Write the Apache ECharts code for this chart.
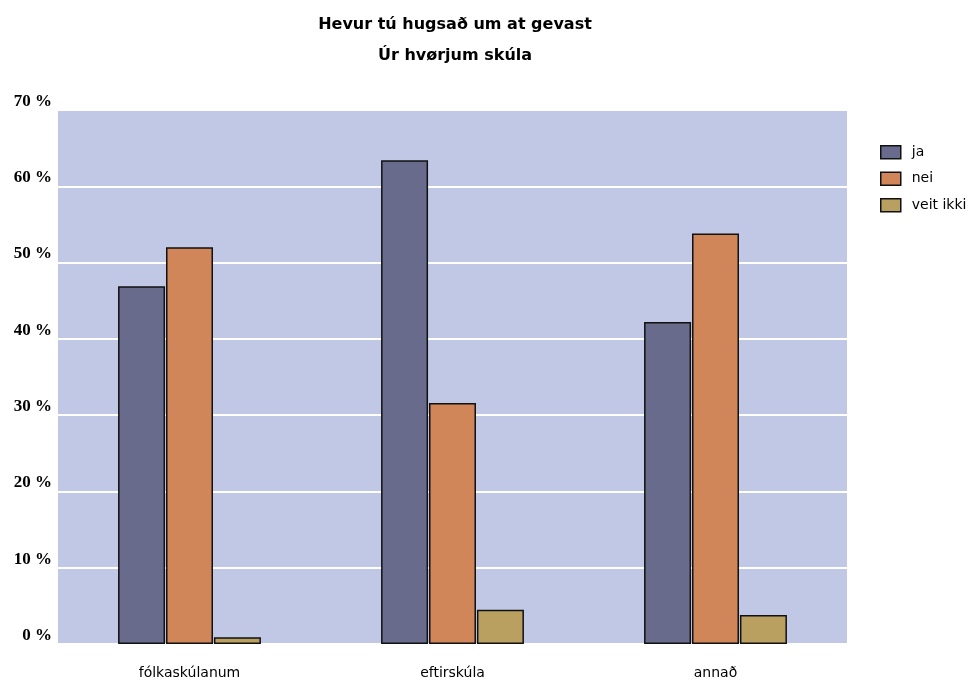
<!DOCTYPE html>
<html><head><meta charset="utf-8">
<script src="https://cdn.jsdelivr.net/npm/echarts@6/dist/echarts.min.js"></script>
<style>html,body{margin:0;padding:0;background:#fff}#c{width:978px;height:681px}</style>
</head><body><div id="c"></div>
<script>
const categories = ['fólkaskúlanum', 'eftirskúla', 'annað'];
const seriesNames = ['ja', 'nei', 'veit ikki'];
const ja = [46.9, 63.4, 42.2];
const nei = [52.0, 31.6, 53.8];
const veitIkki = [0.9, 4.5, 3.8];
const colors = ['#696b8d', '#d08658', '#b9a060'];

const chart = echarts.init(document.getElementById('c'));
const mk = (name, data, i) => ({
  name, type: 'bar', data, barWidth: 47, barGap: '2%',
  itemStyle: { color: colors[i], borderColor: '#111', borderWidth: 1.5 }
});
chart.setOption({
  animation: false,
  title: {
    text: 'Hevur tú hugsað um at gevast\nÚr hvørjum skúla',
    left: 450, top: 4, textAlign: 'center',
    textStyle: { fontFamily: 'DejaVu Sans', fontWeight: 'bold', fontSize: 16, lineHeight: 31, color: '#000' }
  },
  legend: {
    orient: 'vertical', left: 875, top: 140, itemWidth: 20, itemHeight: 13, itemGap: 12,
    icon: 'rect',
    textStyle: { fontFamily: 'DejaVu Sans', fontSize: 14, color: '#000', padding: [0, 0, 0, 6] },
    itemStyle: { borderColor: '#111', borderWidth: 1.5 }
  },
  grid: { left: 58, right: 131, top: 110, bottom: 37, show: true, backgroundColor: '#c0c8e6', borderWidth: 0 },
  xAxis: {
    type: 'category', data: categories,
    axisLine: { show: false }, axisTick: { show: false },
    axisLabel: { margin: 22, fontFamily: 'DejaVu Sans', fontSize: 14, color: '#000' }
  },
  yAxis: {
    type: 'value', min: 0, max: 70, interval: 10,
    axisLine: { show: false }, axisTick: { show: false },
    splitLine: { lineStyle: { color: '#ffffff', width: 2 } },
    axisLabel: { formatter: '{value} %', verticalAlign: 'bottom', margin: 6,
      fontFamily: 'Liberation Serif', fontWeight: 'bold', fontSize: 17, color: '#000' }
  },
  series: [mk(seriesNames[0], ja, 0), mk(seriesNames[1], nei, 1), mk(seriesNames[2], veitIkki, 2)]
});
</script></body></html>
